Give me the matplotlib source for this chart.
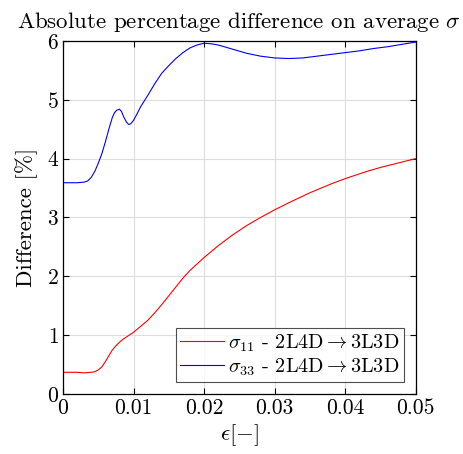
import matplotlib
matplotlib.use("Agg")
import matplotlib.pyplot as plt

plt.rcParams["font.family"] = "serif"
plt.rcParams["font.serif"] = ["cmr10"]
plt.rcParams["mathtext.fontset"] = "cm"
plt.rcParams["axes.formatter.use_mathtext"] = True

eps_11 = [0, 0.001, 0.002, 0.003, 0.004, 0.0045, 0.005, 0.0055, 0.006, 0.0065, 0.007,
          0.0075, 0.008, 0.0085, 0.009, 0.0095, 0.010, 0.011, 0.012, 0.013, 0.014,
          0.015, 0.016, 0.017, 0.018, 0.019, 0.020, 0.022, 0.024, 0.026, 0.028,
          0.030, 0.032, 0.035, 0.038, 0.040, 0.043, 0.045, 0.048, 0.050]
sig_11 = [0.37, 0.37, 0.37, 0.36, 0.37, 0.38, 0.41, 0.46, 0.55, 0.65, 0.75,
          0.82, 0.88, 0.93, 0.97, 1.01, 1.05, 1.15, 1.25, 1.38, 1.52,
          1.67, 1.82, 1.97, 2.10, 2.21, 2.32, 2.52, 2.70, 2.86, 3.00,
          3.13, 3.25, 3.42, 3.57, 3.66, 3.78, 3.85, 3.94, 4.00]

eps_33 = [0, 0.001, 0.002, 0.003, 0.0035, 0.004, 0.0045, 0.005, 0.0055, 0.006, 0.0065,
          0.007, 0.0073, 0.0076, 0.008, 0.0083, 0.0086, 0.009, 0.0093, 0.0096, 0.010,
          0.0105, 0.011, 0.012, 0.013, 0.014, 0.015, 0.016, 0.017, 0.018, 0.019,
          0.020, 0.021, 0.022, 0.024, 0.026, 0.028, 0.030, 0.032, 0.034, 0.036,
          0.038, 0.040, 0.042, 0.044, 0.046, 0.048, 0.050]
sig_33 = [3.59, 3.59, 3.59, 3.60, 3.62, 3.68, 3.78, 3.92, 4.08, 4.28, 4.50,
          4.70, 4.78, 4.82, 4.84, 4.80, 4.71, 4.62, 4.58, 4.59, 4.65,
          4.76, 4.88, 5.07, 5.27, 5.45, 5.58, 5.70, 5.80, 5.88, 5.93,
          5.96, 5.95, 5.93, 5.86, 5.79, 5.74, 5.71, 5.70, 5.71, 5.74,
          5.77, 5.80, 5.83, 5.87, 5.90, 5.94, 5.98]

labels = [r"$\sigma_{11}$ - 2L4D$\rightarrow$3L3D", r"$\sigma_{33}$ - 2L4D$\rightarrow$3L3D"]

fig = plt.figure(figsize=(4.63, 4.54), dpi=100)
ax = fig.add_axes([0.136, 0.132, 0.762, 0.778])

ax.plot(eps_11, sig_11, color="red", lw=0.8, label=labels[0])
ax.plot(eps_33, sig_33, color="blue", lw=0.8, label=labels[1])

ax.set_xlim(0, 0.05)
ax.set_ylim(0, 6)
ax.set_xticks([0, 0.01, 0.02, 0.03, 0.04, 0.05])
ax.set_xticklabels(["0", "0.01", "0.02", "0.03", "0.04", "0.05"])
ax.set_yticks(range(7))
ax.grid(True, color="#dddddd", lw=0.8)
ax.tick_params(direction="in", top=True, right=True, labelsize=15.5, length=4, pad=3)
for s in ax.spines.values():
    s.set_linewidth(0.9)

ax.set_title(r"Absolute percentage difference on average $\sigma$", fontsize=16.5, pad=9)
ax.set_xlabel(r"$\epsilon[-]$", fontsize=16.5, labelpad=3)
ax.set_ylabel("Difference [%]", fontsize=16.5, labelpad=6)

leg = ax.legend(loc="lower right", fontsize=14.5, fancybox=False, edgecolor="#222222",
                handlelength=2.2, handletextpad=0.2, borderpad=0.2, labelspacing=0.15,
                borderaxespad=0.6)
leg.get_frame().set_linewidth(0.8)

fig.savefig("out.png", dpi=100)
